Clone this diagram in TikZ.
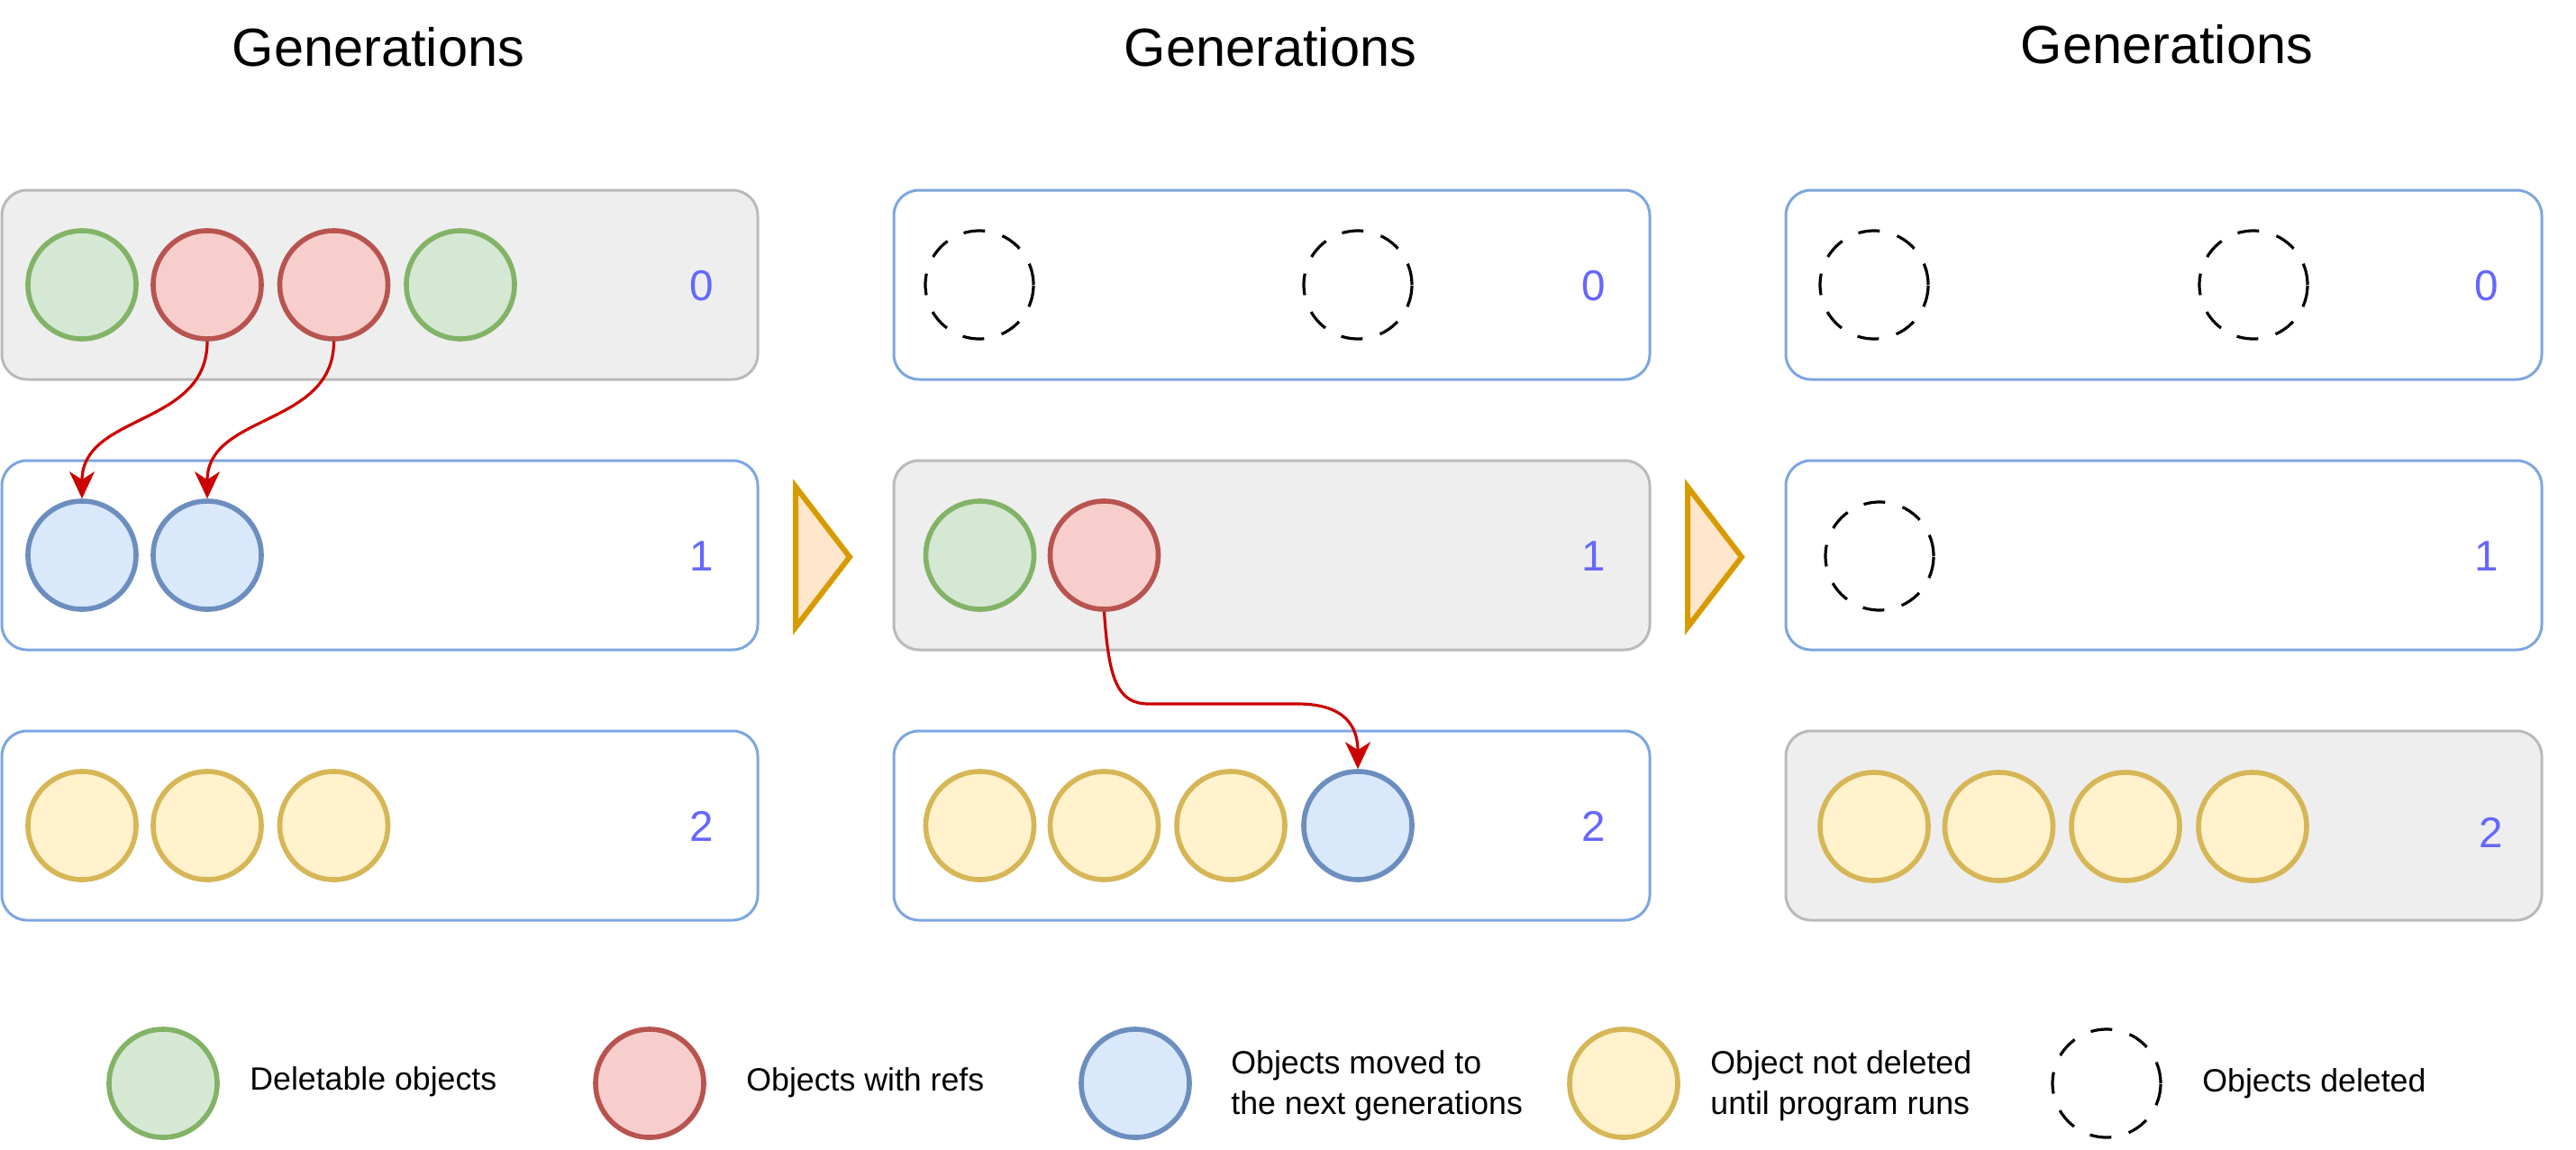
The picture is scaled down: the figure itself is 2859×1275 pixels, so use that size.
\documentclass[tikz,border=0pt]{standalone}
\usepackage{fontspec}
\setmainfont{Liberation Sans}
\usetikzlibrary{arrows.meta}
\definecolor{gfill}{HTML}{D5E8D4}
\definecolor{gline}{HTML}{82B366}
\definecolor{rfill}{HTML}{F8CECC}
\definecolor{rline}{HTML}{B85450}
\definecolor{bfill}{HTML}{DAE8FC}
\definecolor{bline}{HTML}{6C8EBF}
\definecolor{yfill}{HTML}{FFF2CC}
\definecolor{yline}{HTML}{D6B656}
\definecolor{ofill}{HTML}{FFE6CC}
\definecolor{oline}{HTML}{D79B00}
\definecolor{boxline}{HTML}{7EA6E0}
\definecolor{oldfill}{HTML}{EEEEEE}
\definecolor{oldline}{HTML}{BABABA}
\definecolor{numcol}{HTML}{6666FF}
\definecolor{refred}{HTML}{CC0000}
\begin{document}
\begin{tikzpicture}[x=0.5pt,y=-0.5pt,
  genbox/.style={rectangle, rounded corners=14pt, minimum width=419.5pt, minimum height=105pt, line width=1.5pt, inner sep=0pt},
  newgen/.style={genbox, draw=boxline, fill=white},
  oldgen/.style={genbox, draw=oldline, fill=oldfill},
  obj/.style={circle, minimum size=60pt, inner sep=0pt, line width=2.8pt},
  delobj/.style={obj, draw=gline, fill=gfill},
  refobj/.style={obj, draw=rline, fill=rfill},
  movobj/.style={obj, draw=bline, fill=bfill},
  keepobj/.style={obj, draw=yline, fill=yfill},
  goneobj/.style={circle, minimum size=60pt, inner sep=0pt, line width=1.6pt, draw=black, dash pattern=on 12pt off 10pt},
  gennum/.style={text=numcol, font=\fontsize{23.8pt}{28pt}\selectfont, inner sep=0pt},
  gentitle/.style={anchor=base, inner sep=0pt, font=\fontsize{29.75pt}{34pt}\selectfont},
  legtext/.style={anchor=base west, inner sep=0pt, align=left, font=\fontsize{17.85pt}{22.5pt}\selectfont},
  refarrow/.style={draw=refred, line width=1.6pt, -{Stealth[length=15pt,width=14pt,inset=4.5pt]}},
  stepper/.style={draw=oline, fill=ofill, line width=3pt, line join=miter}
]
\useasboundingbox (0,0) rectangle (2859,1275);
\fill[white] (0,0) rectangle (2859,1275);

% titles
\node[gentitle] (t1) at (420,73) {Generations};
\node[gentitle] (t2) at (1410,73) {Generations};
\node[gentitle] (t3) at (2405,70) {Generations};

% panel 1
\node[oldgen] (p1g0) at (421.5,316) {};
\node[newgen] (p1g1) at (421.5,616) {};
\node[newgen] (p1g2) at (421.5,916) {};
\node[delobj] (p1a1) at (91,316) {};
\node[refobj] (p1a2) at (230,316) {};
\node[refobj] (p1a3) at (370.5,316) {};
\node[delobj] (p1a4) at (511,316) {};
\node[movobj] (p1b1) at (91,616) {};
\node[movobj] (p1b2) at (230,616) {};
\node[keepobj] (p1c1) at (91,916) {};
\node[keepobj] (p1c2) at (230,916) {};
\node[keepobj] (p1c3) at (370.5,916) {};
\node[gennum] (p1n0) at (779,317) {0};
\node[gennum] (p1n1) at (779,617) {1};
\node[gennum] (p1n2) at (779,917) {2};

% panel 2
\node[newgen] (p2g0) at (1411.5,316) {};
\node[oldgen] (p2g1) at (1411.5,616) {};
\node[newgen] (p2g2) at (1411.5,916) {};
\node[goneobj] (p2a1) at (1087,316) {};
\node[goneobj] (p2a4) at (1507,316) {};
\node[delobj] (p2b1) at (1087.5,616) {};
\node[refobj] (p2b2) at (1225.5,616) {};
\node[keepobj] (p2c1) at (1087.5,916) {};
\node[keepobj] (p2c2) at (1225.5,916) {};
\node[keepobj] (p2c3) at (1366,916) {};
\node[movobj] (p2c4) at (1507,916) {};
\node[gennum] (p2n0) at (1769,317) {0};
\node[gennum] (p2n1) at (1769,617) {1};
\node[gennum] (p2n2) at (1769,917) {2};

% panel 3
\node[newgen] (p3g0) at (2401.5,316) {};
\node[newgen] (p3g1) at (2401.5,616) {};
\node[oldgen] (p3g2) at (2401.5,916) {};
\node[goneobj] (p3a1) at (2080,316) {};
\node[goneobj] (p3a4) at (2501,316) {};
\node[goneobj] (p3b1) at (2086,617) {};
\node[keepobj] (p3c1) at (2080,917) {};
\node[keepobj] (p3c2) at (2218.5,917) {};
\node[keepobj] (p3c3) at (2359,917) {};
\node[keepobj] (p3c4) at (2500,917) {};
\node[gennum] (p3n0) at (2760,317) {0};
\node[gennum] (p3n1) at (2760,617) {1};
\node[gennum] (p3n2) at (2765,924) {2};

% step triangles
\draw[stepper] (883,540) -- (943,618) -- (883,696) -- cycle;
\draw[stepper] (1873,540) -- (1933,618) -- (1873,696) -- cycle;

% reference arrows
\draw[refarrow] (p1a2.south) .. controls +(0,95) and +(0,-95) .. (p1b1.north);
\draw[refarrow] (p1a3.south) .. controls +(0,95) and +(0,-95) .. (p1b2.north);
\coordinate (k1) at (1275,781);
\coordinate (k2) at (1440,781);
\draw[refarrow] (p2b2.south) .. controls +(5,75) and +(-35,0) .. (k1) -- (k2) .. controls +(55,0) and +(0,-45) .. (p2c4.north);

% legend
\node[delobj] (l1) at (181,1202) {};
\node[legtext] (lt1) at (277,1209) {Deletable objects};
\node[refobj] (l2) at (721,1202) {};
\node[legtext] (lt2) at (828,1210) {Objects with refs};
\node[movobj] (l3) at (1260,1202) {};
\node[legtext] (lt3) at (1366,1236) {Objects moved to\\the next generations};
\node[keepobj] (l4) at (1802,1202) {};
\node[legtext] (lt4) at (1898,1236) {Object not deleted\\until program runs};
\node[goneobj] (l5) at (2338,1202) {};
\node[legtext] (lt5) at (2444,1211) {Objects deleted};
\end{tikzpicture}
\end{document}
